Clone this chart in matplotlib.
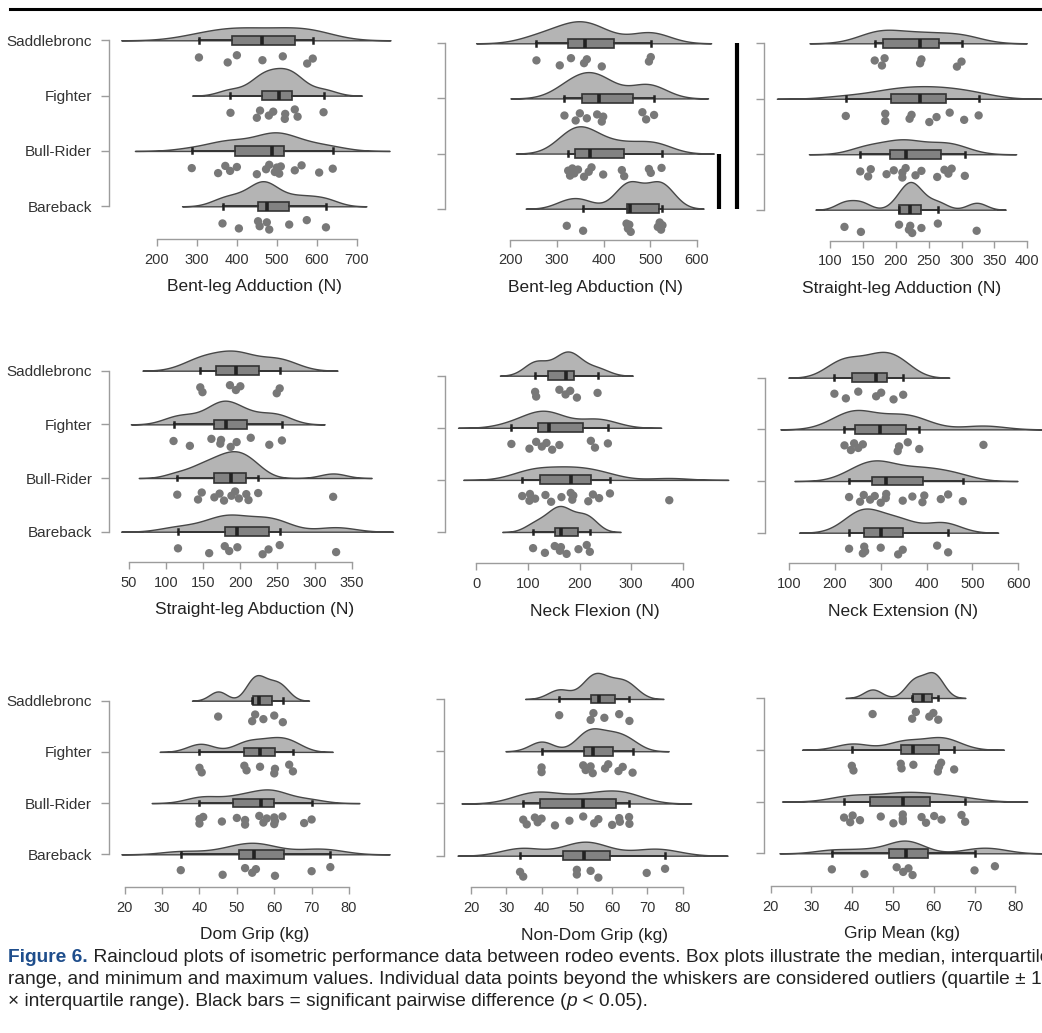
"""
Raincloud plots of isometric performance data between rodeo events (Figure 6)
"""

import matplotlib
matplotlib.use("Agg")
import matplotlib.pyplot as plt
from matplotlib import font_manager
from matplotlib.lines import Line2D
import numpy as np

groups = ["Saddlebronc", "Fighter", "Bull-Rider", "Bareback"]

# valores, una lista por grupo (mismo orden que groups)
bent_add = [
    [305, 377, 400, 464, 515, 576, 590],
    [384, 450, 458, 480, 491, 520, 521, 545, 552, 617],
    [287, 353, 371, 383, 400, 450, 473, 481, 495, 500, 506, 510, 545, 562, 606, 640],
    [364, 405, 453, 457, 475, 481, 531, 575, 623],
]
bent_abd = [
    [256, 306, 330, 358, 364, 396, 497, 501],
    [316, 340, 349, 364, 386, 396, 399, 483, 491, 508],
    [324, 328, 333, 337, 345, 358, 368, 374, 399, 439, 444, 497, 501, 524],
    [321, 356, 449, 452, 455, 458, 516, 520, 523, 526],
]
straight_add = [
    [168, 179, 183, 237, 239, 293, 300],
    [124, 184, 184, 221, 224, 251, 262, 282, 304, 326],
    [146, 158, 162, 186, 197, 210, 210, 215, 230, 239, 263, 274, 280, 285, 305],
    [122, 147, 205, 220, 222, 225, 239, 264, 323],
]
straight_abd = [
    [146, 149, 186, 194, 200, 249, 253],
    [110, 132, 161, 173, 174, 187, 195, 214, 239, 256],
    [115, 143, 148, 165, 172, 178, 188, 193, 198, 208, 211, 224, 325],
    [116, 158, 179, 185, 196, 230, 238, 253, 329],
]
neck_flex = [
    [114, 116, 161, 173, 182, 195, 235],
    [68, 103, 116, 127, 136, 147, 161, 222, 230, 255],
    [89, 103, 104, 114, 134, 145, 165, 183, 186, 188, 217, 226, 238, 259, 374],
    [110, 133, 152, 162, 164, 175, 198, 214, 220],
]
neck_ext = [
    [199, 224, 251, 290, 301, 328, 349],
    [221, 235, 242, 251, 261, 337, 340, 359, 384, 524],
    [231, 255, 263, 277, 287, 300, 311, 312, 348, 369, 391, 395, 431, 447, 479],
    [231, 261, 264, 266, 300, 338, 348, 423, 447],
]
dom_grip = [
    [45, 54.1, 54.9, 57.1, 60, 62.3],
    [40, 40.6, 52, 52.6, 56.2, 60, 60.2, 64, 65],
    [40, 40, 41, 46, 50, 52.2, 52.2, 56, 57.1, 58, 60, 60, 60.2, 62.2, 68, 70],
    [35, 46.2, 52.2, 54.1, 55.1, 60.2, 70, 75],
]
nondom_grip = [
    [45, 53.9, 54.7, 57.8, 62, 64.9],
    [40, 40, 51.8, 52.5, 53.9, 54.5, 58, 58.9, 61.8, 63, 65.8],
    [34.8, 35.8, 38.1, 38.9, 40, 43.8, 47.9, 51.8, 54.9, 56.1, 60, 62, 62.2, 64.8, 64.9],
    [33.9, 34.8, 50, 50, 53.9, 56.1, 69.8, 75],
]
grip_mean = [
    [45, 54.7, 55.6, 58.9, 59.9, 61.1],
    [39.9, 40.3, 51.9, 52.1, 55, 61, 61.3, 61.8, 65],
    [38, 39.5, 40.1, 41.9, 47, 50.1, 52.4, 52.4, 52.4, 57, 58.1, 60.1, 61.9, 66.8, 67.7],
    [35, 43, 50.9, 52.5, 53.8, 54.8, 70, 75],
]

xlabels = ["Bent-leg Adduction (N)", "Bent-leg Abduction (N)", "Straight-leg Adduction (N)",
           "Straight-leg Abduction (N)", "Neck Flexion (N)", "Neck Extension (N)",
           "Dom Grip (kg)", "Non-Dom Grip (kg)", "Grip Mean (kg)"]
xticks = [np.arange(200, 701, 100), np.arange(200, 601, 100), np.arange(100, 401, 50),
          np.arange(50, 351, 50), np.arange(0, 401, 100), np.arange(100, 601, 100),
          np.arange(20, 81, 10), np.arange(20, 81, 10), np.arange(20, 81, 10)]
datasets = [bent_add, bent_abd, straight_add, straight_abd, neck_flex, neck_ext,
            dom_grip, nondom_grip, grip_mean]

# diferencias significativas (solo Bent-leg Abduction)
sig_pairs_abd = [("Bull-Rider", "Bareback"), ("Saddlebronc", "Bareback")]

# layout en pixeles: (bracket x, right x, y Saddlebronc, y Bareback, y eje, (px, val), (px, val))
layout = [
    (108.5, 400, 40.3, 206.3, 239.0, (157.0, 200), (356.7, 700)),
    (445.0, 745, 43.3, 208.7, 239.5, (510.3, 200), (697.0, 600)),
    (764.0, 1040, 43.3, 209.7, 240.5, (830.0, 100), (1027.3, 400)),
    (109.0, 400, 370.7, 531.7, 561.7, (129.0, 50), (351.7, 350)),
    (445.0, 745, 375.7, 532.0, 563.3, (476.3, 0), (682.7, 400)),
    (765.0, 1040, 377.7, 532.7, 563.3, (789.0, 100), (1018.3, 600)),
    (108.5, 400, 700.7, 854.3, 886.7, (124.7, 20), (349.0, 80)),
    (444.0, 745, 699.0, 855.7, 887.3, (471.0, 20), (682.7, 80)),
    (764.0, 1040, 698.0, 853.3, 885.7, (770.7, 20), (1015.3, 80)),
]

# desplazamiento vertical fijo de los puntos (lluvia bajo la nube)
offs = [0.31, 0.40, 0.27, 0.36, 0.29, 0.42, 0.33, 0.25, 0.38, 0.30, 0.41, 0.28, 0.35, 0.26, 0.39, 0.32]

W, H = 1042, 1033
names = {f.name for f in font_manager.fontManager.ttflist}
base_font = "Liberation Sans" if "Liberation Sans" in names else "DejaVu Sans"
cap_font = "Liberation Sans Narrow" if "Liberation Sans Narrow" in names else base_font
plt.rcParams["font.family"] = [base_font, "DejaVu Sans"]

GRID = "#9c9c9c"
TXT = "#333333"

fig = plt.figure(figsize=(W / 100, H / 100), dpi=100)


def kde(vals):
    v = np.asarray(vals, float)
    n = len(v)
    q1, q3 = np.percentile(v, [25, 75])
    bw = 0.9 * min(v.std(ddof=1), (q3 - q1) / 1.34) * n ** -0.2
    xs = np.linspace(v.min() - 3 * bw, v.max() + 3 * bw, 400)
    d = np.exp(-0.5 * ((xs[:, None] - v[None, :]) / bw) ** 2).sum(1) / (n * bw * np.sqrt(2 * np.pi))
    return xs, d


def place_axes(left, right, y_s, y_b, y_axis, tick_a, tick_b):
    (pa, va), (pb, vb) = tick_a, tick_b
    sx = (pb - pa) / (vb - va)
    sy = (y_b - y_s) / 3.0
    top = y_s - 40
    ax = fig.add_axes([left / W, 1 - y_axis / H, (right - left) / W, (y_axis - top) / H])
    ax.set_xlim(va + (left - pa) / sx, va + (right - pa) / sx)
    ax.set_ylim(3 - (y_axis - y_s) / sy, 3 - (top - y_s) / sy)
    ax.patch.set_visible(False)
    return ax


for k, (data, lay) in enumerate(zip(datasets, layout)):
    ax = place_axes(*lay)
    dens = [kde(g) for g in data]
    K = 0.5 / max(d.max() for _, d in dens)

    for i, (vals, (xs, d)) in enumerate(zip(data, dens)):
        y = 3 - i
        ax.fill_between(xs, y, y + d * K, facecolor="#b4b4b4", edgecolor="#474747",
                        lw=1.0, zorder=1, clip_on=False)
        ax.boxplot(vals, positions=[y], orientation="horizontal", widths=0.17, whis=1.5,
                   showfliers=False, patch_artist=True, manage_ticks=False, capwidths=0.09,
                   boxprops=dict(facecolor="#828282", edgecolor="#333333", lw=1.2),
                   medianprops=dict(color="#222222", lw=2.6),
                   whiskerprops=dict(color="#333333", lw=1.4),
                   capprops=dict(color="#222222", lw=1.8), zorder=3)
        ax.scatter(vals, y - np.array(offs[:len(vals)]), s=36, color="#787878",
                   edgecolors="none", zorder=4, clip_on=False)

    ax.set_yticks([3, 2, 1, 0])
    if k % 3 == 0:
        ax.set_yticklabels(groups, fontsize=11, color=TXT)
    else:
        ax.set_yticklabels([])
    ax.set_xticks(xticks[k])
    ax.set_xticklabels([str(t) for t in xticks[k]], fontsize=10.5, color=TXT)
    ax.set_xlabel(xlabels[k], fontsize=12.5, color="#222222", labelpad=9)

    for s in ["top", "right"]:
        ax.spines[s].set_visible(False)
    for s in ["left", "bottom"]:
        ax.spines[s].set_color(GRID)
        ax.spines[s].set_linewidth(1.0)
    ax.spines["left"].set_bounds(0, 3)
    ax.spines["bottom"].set_bounds(xticks[k][0], xticks[k][-1])
    ax.tick_params(axis="y", length=6, width=1, color=GRID, pad=6)
    ax.tick_params(axis="x", length=5, width=1, color=GRID, pad=5)

    if k == 1:
        trans = ax.get_yaxis_transform()
        for (a, b), xf in zip(sig_pairs_abd, [0.913, 0.973]):
            ya, yb = 3 - groups.index(a), 3 - groups.index(b)
            ax.plot([xf, xf], [ya, yb], color="black", lw=3.0, transform=trans,
                    solid_capstyle="butt", clip_on=False, zorder=5)

# linea superior
fig.add_artist(Line2D([10 / W, 1.0], [1 - 9 / H] * 2, color="black", lw=2.2))

# pie de figura
cap_lines = [
    [("Figure 6.", dict(weight="bold", color="#1f4e8c")),
     (" Raincloud plots of isometric performance data between rodeo events. Box plots illustrate the median, interquartile", dict(color="#222222"))],
    [("range, and minimum and maximum values. Individual data points beyond the whiskers are considered outliers (quartile \u00b1 1.5", dict(color="#222222"))],
    [("\u00d7 interquartile range). Black bars = significant pairwise difference (", dict(color="#222222")),
     ("p", dict(style="italic", color="#222222")),
     (" < 0.05).", dict(color="#222222"))],
]
cap_y = [957, 980, 1002]

renderer = fig.canvas.get_renderer()
probe = fig.text(0, 0, "Figure 6. Raincloud plots of isometric performance data between rodeo events. "
                 "Box plots illustrate the median, interquartil", fontsize=10, family=cap_font)
fs = 10 * 1034 / probe.get_window_extent(renderer).width
probe.remove()

for runs, yp in zip(cap_lines, cap_y):
    x = 8.0
    for txt, kw in runs:
        t = fig.text(x / W, 1 - yp / H, txt, fontsize=fs, va="center", ha="left",
                     family=[cap_font, "DejaVu Sans"], **kw)
        x = t.get_window_extent(renderer).x1

fig.savefig("out.png", dpi=100)
